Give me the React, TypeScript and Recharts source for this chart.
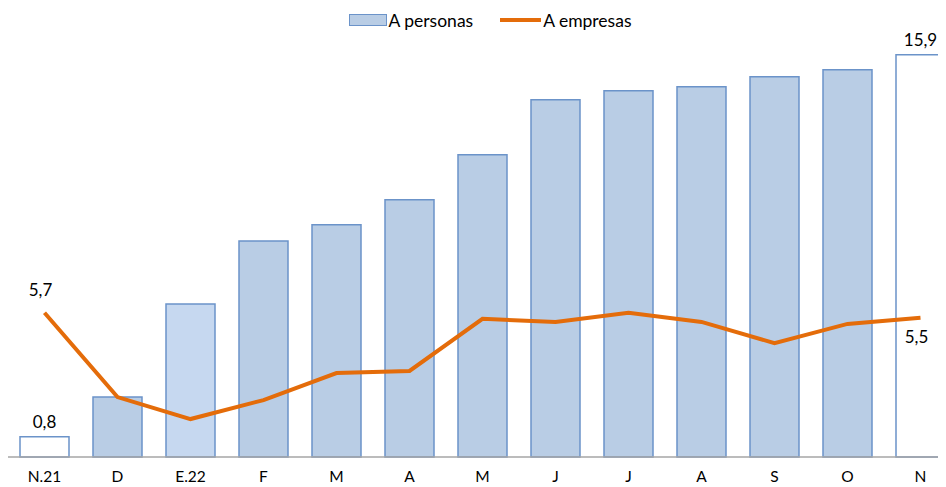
import { ComposedChart, Bar, Line, XAxis, YAxis, Legend, Cell, LabelList } from "recharts";

const categories = ["N.21", "D", "E.22", "F", "M", "A", "M", "J", "J", "A", "S", "O", "N"];
const personas = [0.8, 2.37, 6.05, 8.54, 9.18, 10.17, 11.95, 14.12, 14.48, 14.64, 15.03, 15.31, 15.9];
const empresas = [5.7, 2.37, 1.5, 2.25, 3.32, 3.4, 5.46, 5.34, 5.7, 5.34, 4.5, 5.26, 5.5];

const data = categories.map((c, i) => ({
  mes: c,
  personas: personas[i],
  empresas: empresas[i],
}));

const FONT = "Lato, 'Open Sans', sans-serif";
const BAR_STROKE = "#6b93c9";
const ORANGE = "#e46c0a";

const barFill = (i: number) => {
  if (i === 0 || i === categories.length - 1) return "#ffffff";
  if (i === 2) return "#c6d8f0";
  return "#b9cde5";
};

const fmt = (v: number) => v.toFixed(1).replace(".", ",");

function LegendBox() {
  return (
    <div style={{ display: "flex", justifyContent: "center", alignItems: "center", height: 24, fontFamily: FONT, fontSize: 17.5, color: "#000", paddingLeft: 15 }}>
      <span style={{ display: "inline-block", width: 36, height: 10, background: "#b9cde5", border: `1px solid ${BAR_STROKE}` }} />
      <span style={{ marginLeft: 2, marginRight: 27 }}>A personas</span>
      <span style={{ display: "inline-block", width: 41, height: 3.5, background: ORANGE }} />
      <span style={{ marginLeft: 2 }}>A empresas</span>
    </div>
  );
}

export default function App() {
  return (
    <div style={{ width: 938, height: 479, overflow: "hidden" }}>
      <ComposedChart
        width={949}
        height={479}
        data={data}
        margin={{ top: 0, right: 0, bottom: 0, left: 0 }}
        barSize={49}
      >
        <Legend verticalAlign="top" content={() => <LegendBox />} />
        <XAxis
          dataKey="mes"
          height={30}
          tickLine={false}
          axisLine={{ stroke: "#a6a6a6", strokeWidth: 1.5 }}
          tick={{ fontFamily: FONT, fontSize: 15.5, fill: "#000" }}
          tickMargin={8}
          interval={0}
        />
        <YAxis hide domain={[0, 16.8]} />
        <Bar dataKey="personas" stroke={BAR_STROKE} strokeWidth={1.5} isAnimationActive={false}>
          {data.map((_, i) => (
            <Cell key={i} fill={barFill(i)} />
          ))}
          <LabelList
            dataKey="personas"
            content={(p: any) =>
              p.index === 0 || p.index === categories.length - 1 ? (
                <text x={p.x + p.width / 2} y={p.y - 9} textAnchor="middle" fontFamily={FONT} fontSize={17} fill="#000">
                  {fmt(p.value)}
                </text>
              ) : null
            }
          />
        </Bar>
        <Line
          dataKey="empresas"
          stroke={ORANGE}
          strokeWidth={4}
          dot={false}
          isAnimationActive={false}
        >
          <LabelList
            dataKey="empresas"
            content={(p: any) => {
              if (p.index === 0)
                return (
                  <text x={p.x - 4} y={p.y - 17} textAnchor="middle" fontFamily={FONT} fontSize={17} fill="#000">
                    {fmt(p.value)}
                  </text>
                );
              if (p.index === categories.length - 1)
                return (
                  <text x={p.x - 4} y={p.y + 25} textAnchor="middle" fontFamily={FONT} fontSize={17} fill="#000">
                    {fmt(p.value)}
                  </text>
                );
              return null;
            }}
          />
        </Line>
      </ComposedChart>
    </div>
  );
}
